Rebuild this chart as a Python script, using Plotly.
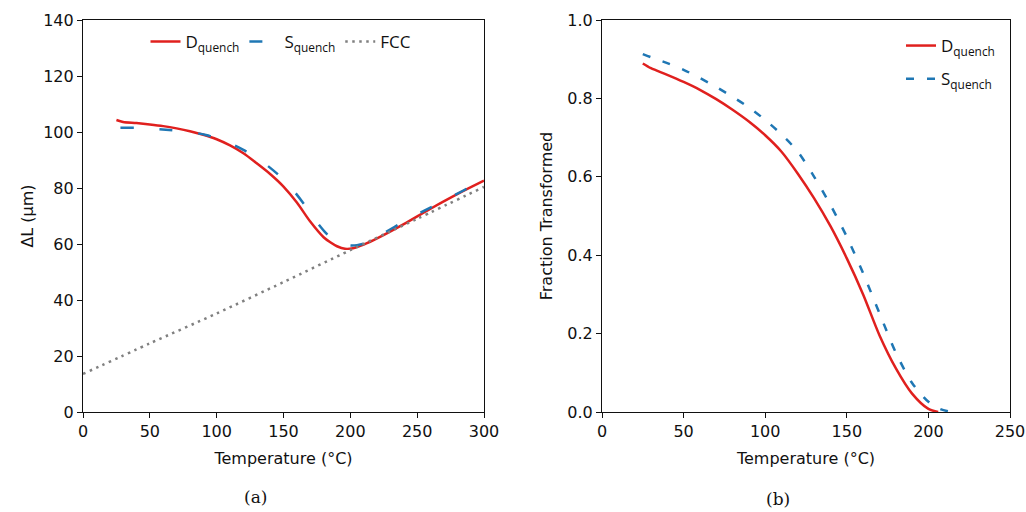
import plotly.graph_objects as go

# ---------------- data: (a) dilatometry ----------------
d_T_a = [25, 30, 40, 50, 60, 70, 80, 90, 100, 110, 120, 130, 140, 150, 160, 170, 180, 185,
         190, 196, 202, 210, 220, 240, 260, 280, 300]
d_L_a = [104.3, 103.6, 103.2, 102.7, 102.1, 101.3, 100.3, 99.0, 97.4, 95.2, 92.4, 88.8, 85.0,
         80.5, 74.8, 68.0, 62.4, 60.6, 59.2, 58.3, 58.5, 59.8, 62.0, 67.1, 72.6, 77.8, 82.6]

s_T_a = [28, 40, 62, 80, 92, 105, 120, 133, 145, 155, 165, 175, 182, 188, 193, 200, 205, 212,
         225, 240, 255, 270, 285, 300]
s_L_a = [101.5, 101.5, 100.8, 100.0, 98.9, 97.0, 93.6, 89.8, 85.2, 80.5, 74.5, 67.8, 63.8, 61.2,
         60.3, 59.5, 59.6, 60.4, 63.9, 68.0, 71.8, 75.5, 79.2, 82.8]

fcc_T = [0, 50, 100, 150, 200, 250, 300]
fcc_L = [13.6, 24.5, 35.2, 46.4, 57.8, 69.0, 80.4]

# ---------------- data: (b) fraction transformed ----------------
d_T_b = [25, 30, 40, 50, 60, 70, 80, 90, 100, 110, 120, 130, 140, 150, 160, 170, 180, 190,
         200, 206]
d_F_b = [0.889, 0.877, 0.860, 0.842, 0.822, 0.798, 0.771, 0.741, 0.706, 0.664, 0.608, 0.545,
         0.474, 0.392, 0.300, 0.196, 0.112, 0.047, 0.008, 0.0]

s_T_b = [25, 30, 40, 50, 60, 70, 80, 90, 100, 110, 120, 130, 140, 150, 160, 170, 180, 190,
         200, 207, 214]
s_F_b = [0.913, 0.905, 0.890, 0.873, 0.852, 0.829, 0.804, 0.777, 0.745, 0.708, 0.664, 0.600,
         0.528, 0.447, 0.354, 0.252, 0.152, 0.074, 0.026, 0.008, 0.0]

xticks_a = [0, 50, 100, 150, 200, 250, 300]
yticks_a = [0, 20, 40, 60, 80, 100, 120, 140]
xticks_b = [0, 50, 100, 150, 200, 250]
yticks_b = [0.0, 0.2, 0.4, 0.6, 0.8, 1.0]

RED = "#e0201e"
BLUE = "#1f77b4"
GRAY = "#808080"
INK = "#111111"
W, H = 1026, 512


def px(x):
    return x / W


def py(y):
    return 1 - y / H


SM = 0.8
fig = go.Figure()
fig.add_trace(go.Scatter(x=d_T_a, y=d_L_a, mode="lines", name="D<sub>quench</sub>",
                         line=dict(color=RED, width=2.5, shape="spline", smoothing=SM),
                         xaxis="x", yaxis="y", legend="legend"))
fig.add_trace(go.Scatter(x=s_T_a, y=s_L_a, mode="lines", name="S<sub>quench</sub>",
                         line=dict(color=BLUE, width=2.5, dash="13px,26px", shape="spline",
                                   smoothing=SM),
                         xaxis="x", yaxis="y", legend="legend"))
fig.add_trace(go.Scatter(x=fcc_T, y=fcc_L, mode="lines", name="FCC",
                         line=dict(color=GRAY, width=2.5, dash="2.5px,4.5px", shape="spline",
                                   smoothing=SM),
                         xaxis="x", yaxis="y", legend="legend"))
fig.add_trace(go.Scatter(x=d_T_b, y=d_F_b, mode="lines", name="D<sub>quench</sub>",
                         line=dict(color=RED, width=2.5, shape="spline", smoothing=SM),
                         xaxis="x2", yaxis="y2", legend="legend2", legendgroup="d"))
fig.add_trace(go.Scatter(x=s_T_b, y=s_F_b, mode="lines", name="S<sub>quench</sub>",
                         line=dict(color=BLUE, width=2.5, dash="8px,13px", shape="spline",
                                   smoothing=SM),
                         xaxis="x2", yaxis="y2", legend="legend2", legendgroup="s"))

tickfont = dict(family="DejaVu Sans", size=16, color=INK)
titlefont = dict(family="DejaVu Sans", size=16, color=INK)
axis_common = dict(showline=True, linecolor=INK, linewidth=1.2, mirror=True,
                   ticks="outside", ticklen=5, tickwidth=1.2, tickcolor=INK,
                   showgrid=False, zeroline=False, tickfont=tickfont, automargin=False)

yd = [py(412), py(20)]
fig.update_layout(
    width=W, height=H,
    margin=dict(l=0, r=0, t=0, b=0),
    paper_bgcolor="white", plot_bgcolor="white",
    xaxis=dict(domain=[px(83), px(484)], range=[0, 300], tickvals=xticks_a,
               title=dict(text="Temperature (°C)", font=titlefont, standoff=12),
               anchor="y", **axis_common),
    yaxis=dict(domain=yd, range=[0, 140], tickvals=yticks_a,
               title=dict(text="ΔL (µm)", font=titlefont, standoff=5),
               anchor="x", **axis_common),
    xaxis2=dict(domain=[px(602), px(1010)], range=[0, 250], tickvals=xticks_b,
                title=dict(text="Temperature (°C)", font=titlefont, standoff=12),
                anchor="y2", **axis_common),
    yaxis2=dict(domain=yd, range=[0, 1], tickvals=yticks_b, tickformat=".1f",
                title=dict(text="Fraction Transformed", font=titlefont, standoff=10),
                anchor="x2", **axis_common),
    legend=dict(orientation="h", x=px(281), xanchor="center", y=py(24),
                yanchor="top", bgcolor="rgba(0,0,0,0)",
                font=dict(family="Open Sans", size=17, color=INK)),
    legend2=dict(orientation="v", x=px(1000), xanchor="right", y=py(28), yanchor="top",
                 bgcolor="rgba(0,0,0,0)", tracegroupgap=8,
                 font=dict(family="Open Sans", size=17, color=INK)),
    annotations=[
        dict(text="(a)", x=px(255), y=py(497), xref="paper", yref="paper",
             xanchor="center", yanchor="middle",
             showarrow=False, font=dict(family="DejaVu Serif", size=17, color=INK)),
        dict(text="(b)", x=px(778), y=py(499), xref="paper", yref="paper",
             xanchor="center", yanchor="middle",
             showarrow=False, font=dict(family="DejaVu Serif", size=17, color=INK)),
    ],
)

fig.write_html("out.html", config={"displayModeBar": False},
               post_script="document.body.style.margin='0';document.body.style.overflow='hidden';")
